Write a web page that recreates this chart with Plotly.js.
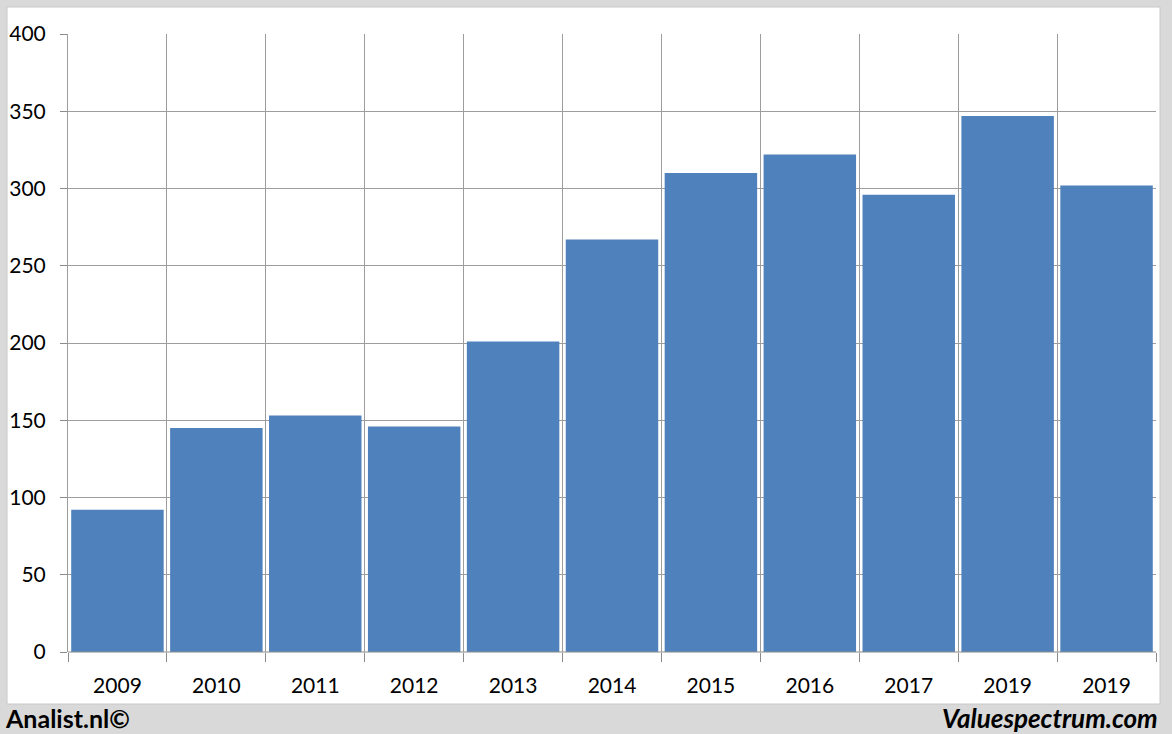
<!DOCTYPE html>
<html>
<head>
<meta charset="utf-8">
<script src="https://cdn.plot.ly/plotly-3.0.1.min.js"></script>
<style>html,body{margin:0;padding:0;background:#d9d9d9;}#chart{width:1172px;height:734px;}</style>
</head>
<body>
<div id="chart"></div>
<script>
const categories = ["2009","2010","2011","2012","2013","2014","2015","2016","2017","2019","2019"];
const values = [92, 145, 153, 146, 201, 267, 310, 322, 296, 347, 302];
const yTicks = [0, 50, 100, 150, 200, 250, 300, 350, 400];

const positions = categories.map((c, i) => i);

const W = 1172, H = 734, L = 68, R = 16, T = 34, B = 82;
const pw = W - L - R, ph = H - T - B;
const px = v => (v - L) / pw;
const py = v => (H - B - v) / ph;

const trace = {
  type: 'bar',
  x: positions,
  y: values,
  marker: {color: '#4f81bd', line: {width: 0}},
  hoverinfo: 'skip'
};

const font = "Lato, 'Open Sans', sans-serif";

const layout = {
  width: W, height: H,
  margin: {l: L, r: R, t: T, b: B},
  paper_bgcolor: '#d9d9d9',
  plot_bgcolor: 'rgba(0,0,0,0)',
  bargap: 0.065,
  showlegend: false,
  font: {family: font, color: '#000', size: 20},
  xaxis: {
    range: [-0.5, categories.length - 0.5],
    tickvals: positions,
    ticktext: categories,
    ticks: '',
    showgrid: false,
    zeroline: false,
    showline: false,
    tickfont: {family: font, size: 21, color: '#000'},
    ticklabelstandoff: 19,
    minor: {tick0: -0.5, dtick: 1, showgrid: true, gridcolor: '#9d9d9d', gridwidth: 1, ticks: 'outside', ticklen: 9, tickcolor: '#8a8a8a', tickwidth: 1},
    fixedrange: true
  },
  yaxis: {
    range: [0, 400],
    tickvals: yTicks,
    ticks: 'outside',
    ticklen: 7,
    tickcolor: '#8a8a8a',
    ticklabelstandoff: 10,
    showgrid: true,
    gridcolor: '#9d9d9d',
    gridwidth: 1,
    zeroline: false,
    showline: true,
    linecolor: '#9d9d9d',
    tickfont: {family: font, size: 21, color: '#000'},
    fixedrange: true
  },
  shapes: [
    {type: 'rect', xref: 'paper', yref: 'paper', layer: 'below',
     x0: px(7), x1: px(1160), y0: py(704), y1: py(7),
     fillcolor: '#ffffff', line: {color: '#c8c8c8', width: 1}},
    {type: 'line', xref: 'paper', yref: 'paper', layer: 'above',
     x0: 0, x1: 1, y0: 0, y1: 0, line: {color: '#8a8a8a', width: 1}}
  ],
  annotations: [
    {xref: 'paper', yref: 'paper', x: px(3), y: py(718), xanchor: 'left', yanchor: 'middle',
     text: '<b>Analist.nl©</b>', showarrow: false, font: {family: font, size: 25, color: '#000'}},
    {xref: 'paper', yref: 'paper', x: px(1160), y: py(718), xanchor: 'right', yanchor: 'middle',
     text: '<b><i>Valuespectrum.com</i></b>', showarrow: false, font: {family: font, size: 26, color: '#000'}}
  ]
};

Plotly.newPlot('chart', [trace], layout, {displayModeBar: false, staticPlot: true});
</script>
</body>
</html>
